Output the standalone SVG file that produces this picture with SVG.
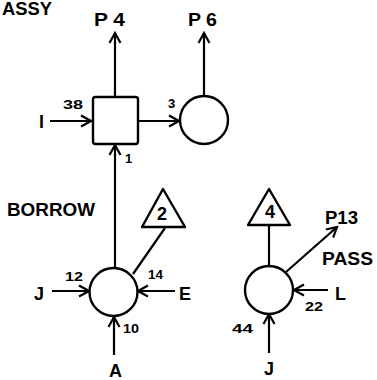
<svg xmlns="http://www.w3.org/2000/svg" width="377" height="380" viewBox="0 0 377 380">
<style>
.n{fill:#fff;stroke:#000;stroke-width:2.4}
.c{fill:none;stroke:#000;stroke-width:2.2}
.a{marker-end:url(#ah)}
text{font-family:"Liberation Sans",Arial,sans-serif;font-weight:bold;fill:#000}
.L{font-size:18px}
.s{font-size:13px}
</style>
<defs>
<marker id="ah" markerUnits="userSpaceOnUse" viewBox="-12 -7 14 14" refX="0" refY="0" markerWidth="14" markerHeight="14" orient="auto">
<path d="M-10,-5.5 L0,0 L-10,5.5" fill="none" stroke="#000" stroke-width="2.2"/>
</marker>
</defs>
<rect width="377" height="380" fill="#fff"/>
<g id="connectors">
<line class="c a" x1="115" y1="97" x2="115" y2="33"/>
<line class="c a" x1="204" y1="96" x2="204" y2="33"/>
<line class="c a" x1="50" y1="121" x2="91" y2="121"/>
<line class="c a" x1="138" y1="121" x2="179" y2="121"/>
<line class="c a" x1="115" y1="268" x2="115" y2="145"/>
<line class="c" x1="165" y1="228" x2="133" y2="274"/>
<line class="c a" x1="52" y1="291" x2="89" y2="291"/>
<line class="c a" x1="175" y1="291" x2="138" y2="291"/>
<line class="c a" x1="114" y1="355" x2="114" y2="317"/>
<line class="c" x1="269" y1="225" x2="269" y2="266"/>
<line class="c a" x1="286" y1="272" x2="337" y2="227"/>
<line class="c a" x1="328" y1="290" x2="294" y2="290"/>
<line class="c a" x1="269" y1="353" x2="269" y2="314"/>
</g>
<g id="node-assy">
<rect class="n" x="93" y="97" width="45" height="47" rx="2.5"/>
</g>
<g id="node-p6">
<circle class="n" cx="204" cy="120" r="24"/>
</g>
<g id="node-borrow">
<circle class="n" cx="113.5" cy="292" r="24"/>
</g>
<g id="node-tri2">
<path class="n" d="M163,189 L185,227 L142,227 Z" stroke-linejoin="round"/>
<text class="L" x="162" y="220" text-anchor="middle" font-weight="normal">2</text>
</g>
<g id="node-tri4">
<path class="n" d="M269,189 L290,225 L248,225 Z" stroke-linejoin="round"/>
<text class="L" x="270" y="218" text-anchor="middle">4</text>
</g>
<g id="node-pass">
<circle class="n" cx="269" cy="290" r="24"/>
</g>
<g id="labels">
<text class="L" x="2" y="15" font-size="13" textLength="50" lengthAdjust="spacingAndGlyphs">ASSY</text>
<text class="L" x="94" y="26" textLength="31" lengthAdjust="spacingAndGlyphs">P 4</text>
<text class="L" x="188" y="26" textLength="29" lengthAdjust="spacingAndGlyphs">P 6</text>
<text class="s" x="63" y="109" textLength="20" lengthAdjust="spacingAndGlyphs">38</text>
<text class="L" x="39" y="128" font-weight="normal">I</text>
<text class="s" x="168" y="108">3</text>
<text class="s" x="125" y="163" font-weight="normal">1</text>
<text class="L" x="7" y="216" textLength="88" lengthAdjust="spacingAndGlyphs">BORROW</text>
<text class="s" x="65" y="281" textLength="18" lengthAdjust="spacingAndGlyphs">12</text>
<text class="L" x="34" y="300">J</text>
<text class="s" x="148" y="279" font-weight="normal" textLength="15" lengthAdjust="spacingAndGlyphs">14</text>
<text class="L" x="179" y="300" font-weight="normal">E</text>
<text class="s" x="123" y="333" font-weight="normal" textLength="16" lengthAdjust="spacingAndGlyphs">10</text>
<text class="L" x="109" y="377" font-weight="normal">A</text>
<text class="L" x="325" y="224" font-weight="normal" font-size="15" textLength="33" lengthAdjust="spacingAndGlyphs">P13</text>
<text class="L" x="322" y="265" textLength="51" lengthAdjust="spacingAndGlyphs">PASS</text>
<text class="L" x="335" y="300" font-weight="normal">L</text>
<text class="s" x="305" y="311" textLength="18" lengthAdjust="spacingAndGlyphs">22</text>
<text class="s" x="232" y="333" textLength="21" lengthAdjust="spacingAndGlyphs">44</text>
<text class="L" x="264" y="375" font-weight="normal">J</text>
</g>
</svg>
